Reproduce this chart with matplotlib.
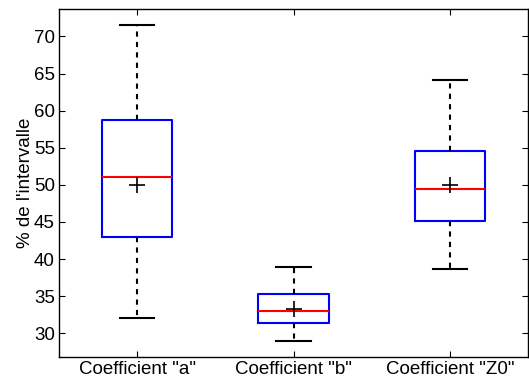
import numpy as np
import matplotlib
matplotlib.use('Agg')
import matplotlib.pyplot as plt

plt.rcParams['font.family'] = ['Liberation Sans', 'DejaVu Sans']

# values
labels = ['Coefficient "a"', 'Coefficient "b"', 'Coefficient "Z0"']
whislo = [32.0, 29.0, 38.7]
q1 = [43.0, 31.4, 45.1]
med = [51.1, 33.0, 49.5]
q3 = [58.8, 35.3, 54.5]
whishi = [71.5, 38.9, 64.1]
means = [50.0, 33.3, 50.0]

stats = []
for i in range(len(labels)):
    stats.append({'label': labels[i], 'whislo': whislo[i], 'q1': q1[i], 'med': med[i],
                  'q3': q3[i], 'whishi': whishi[i], 'mean': means[i], 'fliers': []})

fig = plt.figure(figsize=(5.29, 3.87), dpi=100)
ax = fig.add_axes([59 / 529, 1 - 357 / 387, (528 - 59) / 529, (357 - 9) / 387])

ax.bxp(stats, positions=[1, 2, 3], widths=0.45, showmeans=True,
       boxprops=dict(color='#0000ff', linewidth=1.5),
       medianprops=dict(color='#ff0000', linewidth=1.5),
       whiskerprops=dict(color='black', linestyle=(0, (2.5, 2.5)), linewidth=1.5),
       capprops=dict(color='black', linewidth=1.5),
       meanprops=dict(marker='+', markeredgecolor='black', markersize=11, markeredgewidth=1.2),
       capwidths=0.22)

ax.set_xlim(0.5, 3.5)
ax.set_ylim(26.8, 73.7)
ax.set_yticks(np.arange(30, 71, 5))
ax.tick_params(direction='in', top=True, right=True, labelsize=13.5, length=4, pad=3)
ax.set_ylabel("% de l'intervalle", fontsize=13.5, labelpad=0)
for s in ax.spines.values():
    s.set_linewidth(1.0)

fig.savefig('out.png', dpi=100)
